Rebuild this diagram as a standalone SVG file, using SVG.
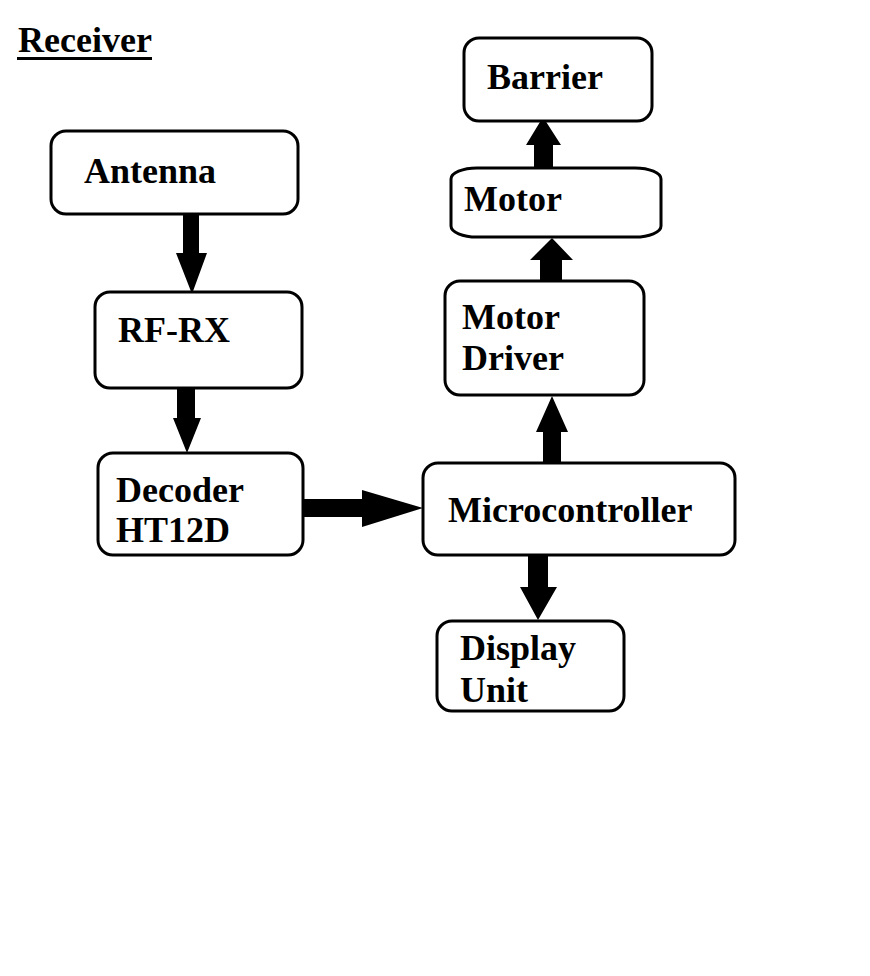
<svg xmlns="http://www.w3.org/2000/svg" width="870" height="976" viewBox="0 0 870 976">
<style>
.box{fill:#fff;stroke:#000;stroke-width:3}
.t{font-family:"Liberation Serif","Times New Roman",serif;font-weight:bold;font-size:36px;fill:#000}
.arr{fill:#000;stroke:none}
</style>
<rect width="870" height="976" fill="#fff"/>
<g id="title">
<text class="t" x="18" y="52" font-size="35">Receiver</text>
<rect x="17" y="57" width="135" height="3" fill="#000"/>
</g>
<g id="connectors">
<polygon class="arr" points="183,214 199,214 199,253 207,253 192,294 176,253 183,253"/>
<polygon class="arr" points="177,388 195,388 195,418 201,418 187,453 173,418 177,418"/>
<polygon class="arr" points="303,499 362,499 362,490 423,508 362,527 362,517 303,517"/>
<polygon class="arr" points="543,463 561,463 561,432 568,432 552,396 536,432 543,432"/>
<polygon class="arr" points="528,555 548,555 548,587 557,587 538,620 520,587 528,587"/>
<polygon class="arr" points="540,281 562,281 562,260 573,260 552,238 530,260 540,260"/>
<polygon class="arr" points="534,170 553,170 553,145 561,145 543,117 526,145 534,145"/>
</g>
<g id="antenna">
<rect class="box" x="51" y="131" width="247" height="83" rx="15"/>
<text class="t" x="84" y="183">Antenna</text>
</g>
<g id="rfrx">
<rect class="box" x="95" y="292" width="207" height="96" rx="15"/>
<text class="t" x="118" y="342">RF-RX</text>
</g>
<g id="decoder">
<rect class="box" x="98" y="453" width="205" height="102" rx="15"/>
<text class="t" x="116" y="502">Decoder</text>
<text class="t" x="116" y="542">HT12D</text>
</g>
<g id="microcontroller">
<rect class="box" x="423" y="463" width="312" height="92" rx="15"/>
<text class="t" x="448" y="522">Microcontroller</text>
</g>
<g id="display">
<rect class="box" x="437" y="621" width="187" height="90" rx="15"/>
<text class="t" x="460" y="660">Display</text>
<text class="t" x="460" y="702">Unit</text>
</g>
<g id="motordriver">
<rect class="box" x="445" y="281" width="199" height="114" rx="15"/>
<text class="t" x="462" y="329">Motor</text>
<text class="t" x="462" y="370">Driver</text>
</g>
<g id="motor">
<rect class="box" x="451" y="168" width="210" height="69" rx="26" ry="11"/>
<text class="t" x="464" y="211">Motor</text>
</g>
<g id="barrier">
<rect class="box" x="464" y="38" width="188" height="83" rx="15"/>
<text class="t" x="487" y="89">Barrier</text>
</g>
</svg>
